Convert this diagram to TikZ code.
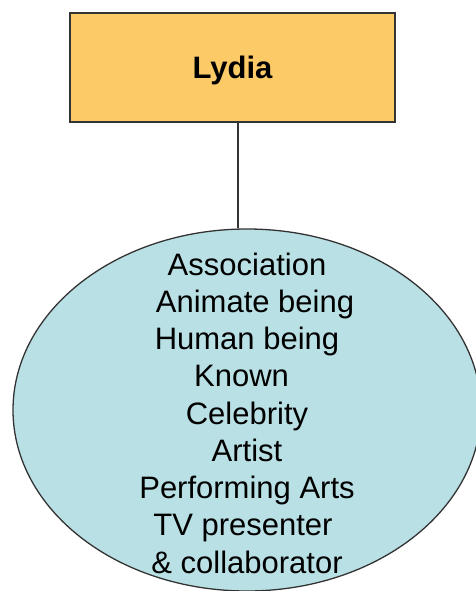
\documentclass[tikz,border=0pt]{standalone}
\usepackage{fontspec}
\setmainfont{Liberation Sans}
\usetikzlibrary{shapes.geometric}
\definecolor{kasten}{HTML}{FCCA66}
\definecolor{blase}{HTML}{B9E0E4}
\begin{document}
\begin{tikzpicture}[x=1pt, y=-1pt,
	namebox/.style={draw=black!80, line width=1.6pt, fill=kasten, minimum width=325pt, minimum height=109pt, inner sep=0pt, text depth=0pt, font=\fontsize{31}{37}\selectfont\bfseries},
	bubble/.style={ellipse, draw=black!80, line width=1.3pt, fill=blase, minimum width=468pt, minimum height=362pt, inner sep=0pt},
	merkmale/.style={align=center, inner sep=0pt, font=\fontsize{31}{37.25}\selectfont},
	verbinder/.style={draw=black!80, line width=1.4pt}]
		%Rahmen
		\useasboundingbox (0,0) rectangle (475,591);

		%Kasten oben
		\node[namebox] (lydia) at (232.5,67.5) {Lydia};

		%Ellipse mit Begriffen
		\node[bubble] (blase) at (247,410) {};
		\node[merkmale] (liste) at ([yshift=-3]blase.center) {Association\\
			\hspace*{16pt}Animate being\\
			Human being\\
			Known\rule{11pt}{0pt}\\
			Celebrity\\
			Artist\\
			Performing Arts\\
			TV presenter\rule{8pt}{0pt}\\
			\& collaborator};

		%Verbindung
		\draw[verbinder] ([xshift=5.5]lydia.south) -- ([xshift=5.5]lydia.south |- blase.north);
\end{tikzpicture}
\end{document}
